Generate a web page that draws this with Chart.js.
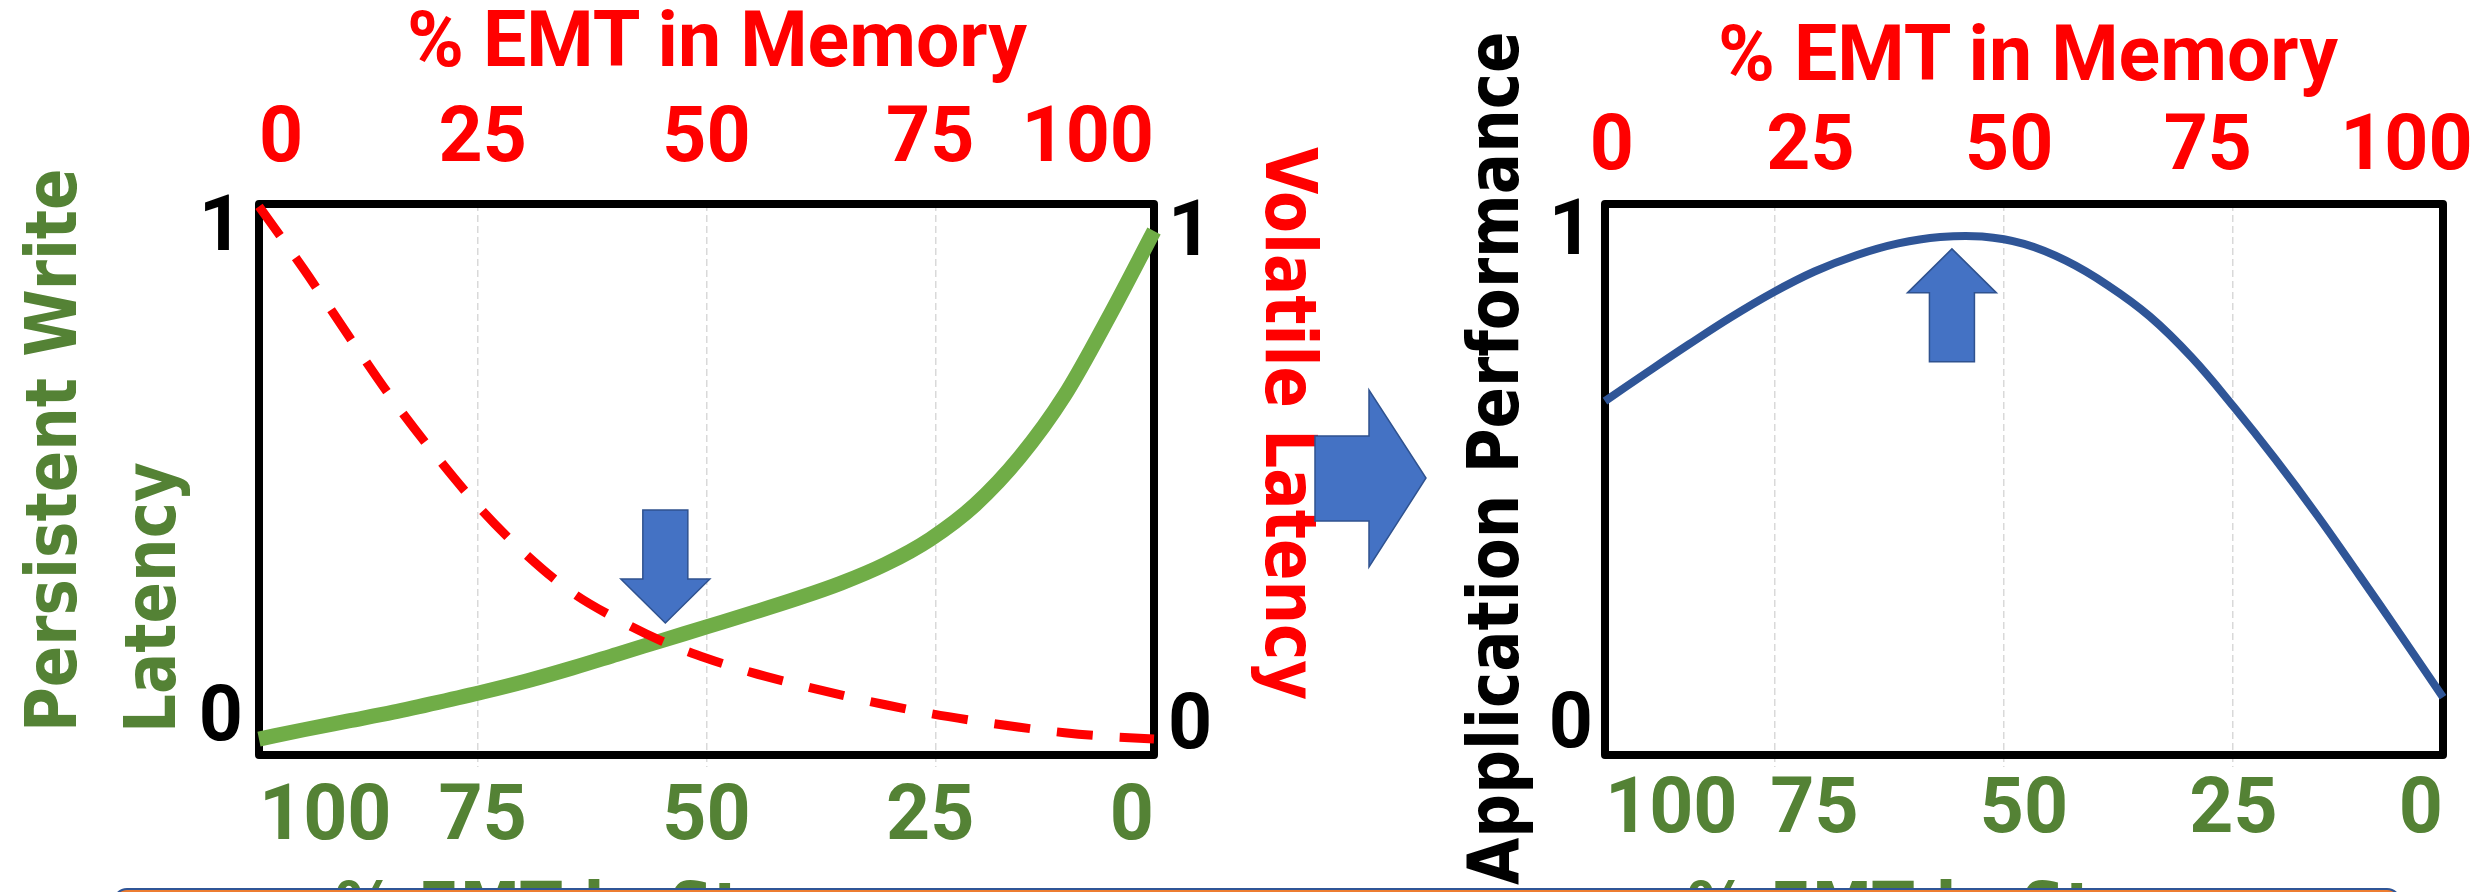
<!DOCTYPE html>
<html>
<head>
<meta charset="utf-8">
<script src="https://cdn.jsdelivr.net/npm/chart.js@4.4.1/dist/chart.umd.min.js"></script>
<style>
  html, body { margin: 0; padding: 0; background: #fff; }
  #stage { position: relative; width: 2486px; height: 892px; overflow: hidden; background: #fff; }
  #stage canvas { position: absolute; top: 0; }
  .t { position: absolute; white-space: nowrap; line-height: 1; }
  .title { font-family: Roboto, 'Liberation Sans', sans-serif; font-weight: bold; font-size: 77px; color: #FF0000; transform: translateX(-50%); }
  .rot { font-family: 'DejaVu Sans', sans-serif; font-weight: bold; font-size: 72px; transform-origin: 0 0; }
  .ccw { transform: rotate(-90deg) scaleX(0.85); }
  .cw { transform: rotate(90deg) scaleX(0.85); }
  .flat { transform: scaleX(0.85); }
</style>
</head>
<body>
<div id="stage">
  <canvas id="leftChart" width="1250" height="892" style="left:0;width:1250px;height:892px"></canvas>
  <canvas id="rightChart" width="1236" height="892" style="left:1250px;width:1236px;height:892px"></canvas>

  <div class="t title" style="left:717px;top:2px">% EMT in Memory</div>
  <div class="t title" style="left:2028px;top:16px">% EMT in Memory</div>

  <div class="t rot ccw" style="left:15px;top:732px;color:#548235">Persistent Write</div>
  <div class="t rot ccw" style="left:114px;top:733px;color:#548235">Latency</div>
  <div class="t rot cw" style="left:1327px;top:147px;color:#FF0000">Volatile Latency</div>
  <div class="t rot ccw" style="left:1457px;top:885px;color:#000">Application Performance</div>

  <div class="t rot flat" style="left:335px;top:872px;color:#548235">% EMT in Storage</div>
  <div class="t rot flat" style="left:1687px;top:872px;color:#548235">% EMT in Storage</div>

  <svg style="position:absolute;left:0;top:0" width="2486" height="892">
    <polygon points="1315,436 1369,436 1369,390 1426,478 1369,567 1369,521 1315,521"
             fill="#4472C4" stroke="#2F528F" stroke-width="1.5"/>
  </svg>

  <div style="position:absolute;left:113px;top:888px;width:2288px;height:40px;box-sizing:border-box;border:2.5px solid #2F5597;border-radius:14px;background:#ED7D31"></div>
</div>

<script>
// ---------------- data ----------------
const EMT_IN_MEMORY = [0, 5, 10, 15, 20, 25, 30, 35, 40, 45, 50, 55, 60, 65, 70, 75, 80, 85, 90, 95, 100];
const PERSISTENT_WRITE_LATENCY = [-0.037, -0.018, 0.000, 0.018, 0.038, 0.059, 0.082, 0.108, 0.136, 0.164, 0.192,
                                  0.220, 0.249, 0.281, 0.320, 0.371, 0.441, 0.538, 0.664, 0.826, 1.000];
const VOLATILE_LATENCY = [1.050, 0.922, 0.786, 0.654, 0.536, 0.428, 0.337, 0.262, 0.208, 0.163, 0.128,
                          0.099, 0.075, 0.053, 0.033, 0.015, 0.000, -0.013, -0.024, -0.032, -0.037];
const APPLICATION_PERFORMANCE = [0.663, 0.721, 0.778, 0.833, 0.883, 0.926, 0.959, 0.983, 0.996, 0.997, 0.982,
                                 0.948, 0.898, 0.835, 0.752, 0.652, 0.545, 0.431, 0.310, 0.187, 0.062];

const MEMORY_TICKS = [0, 25, 50, 75, 100];
const MEMORY_TICK_LABELS = ['0', '25', '50', '75', '100'];
const STORAGE_TICK_LABELS = ['100', '75', '50', '25', '0'];
const GRID_TICKS = [25, 50, 75];
const Y_TICKS = [0, 1];
const Y_TICK_LABELS = ['0', '1'];

// annotation arrows (tip position in data units)
const LEFT_ARROW = { x: 45.4, y: 0.20, dir: 'down' };
const RIGHT_ARROW = { x: 41.4, y: 0.972, dir: 'up' };

// ---------------- styling / layout ----------------
const GREEN_LINE = '#70AD47', GREEN_TEXT = '#548235', RED = '#FF0000', BLUE_LINE = '#2F5597';
const GRID_COLOR = '#D9D9D9';
const TICK_FONT = { family: 'Roboto', size: 77, weight: 'bold', lineHeight: 1.2 };
const ARROW_SHAPE = { headWidth: 89, headLength: 44, shaftWidth: 45, length: 113 };

const setTicks = vals => scale => { scale.ticks = vals.map(v => ({ value: v })); };
const fixW = w => s => { s.width = w; };
const fixH = h => s => { s.height = h; };
const pts = (xs, ys) => xs.map((x, i) => ({ x, y: ys[i] }));

const boxPlugin = {
  id: 'plotBox',
  beforeDatasetsDraw(chart) {
    const { ctx, chartArea: a } = chart;
    ctx.save();
    ctx.lineWidth = 8;
    ctx.lineJoin = 'round';
    ctx.strokeStyle = '#000';
    ctx.strokeRect(a.left, a.top, a.right - a.left, a.bottom - a.top);
    ctx.restore();
  }
};

const arrowPlugin = {
  id: 'blockArrow',
  afterDatasetsDraw(chart, args, opts) {
    const arrow = opts.arrow; if (!arrow) return;
    const { ctx } = chart;
    const tx = chart.scales.x.getPixelForValue(arrow.x);
    const ty = chart.scales.y.getPixelForValue(arrow.y);
    const s = arrow.dir === 'down' ? -1 : 1;
    const hw = ARROW_SHAPE.headWidth / 2, sw = ARROW_SHAPE.shaftWidth / 2;
    const hl = ARROW_SHAPE.headLength, L = ARROW_SHAPE.length;
    ctx.save();
    ctx.beginPath();
    ctx.moveTo(tx, ty);
    ctx.lineTo(tx + hw, ty + s * hl);
    ctx.lineTo(tx + sw, ty + s * hl);
    ctx.lineTo(tx + sw, ty + s * L);
    ctx.lineTo(tx - sw, ty + s * L);
    ctx.lineTo(tx - sw, ty + s * hl);
    ctx.lineTo(tx - hw, ty + s * hl);
    ctx.closePath();
    ctx.fillStyle = '#4472C4';
    ctx.fill();
    ctx.lineWidth = 1.5;
    ctx.strokeStyle = '#2F528F';
    ctx.stroke();
    ctx.restore();
  }
};

function gridAxis(min, max) {
  return {
    type: 'linear', position: 'bottom', min, max, weight: 0,
    afterBuildTicks: setTicks(GRID_TICKS),
    afterFit: fixH(0),
    ticks: { display: false },
    grid: { display: true, color: GRID_COLOR, lineWidth: 1.5, drawTicks: true, tickLength: 12,
            tickColor: GRID_COLOR, tickWidth: 1.5, tickBorderDash: [7, 4] },
    border: { display: false, dash: [7, 4] }
  };
}
function labelAxis(position, min, max, ticksVals, labels, color, padding, align, size, weight) {
  return {
    type: 'linear', position, min, max, weight: weight || 0,
    afterBuildTicks: setTicks(ticksVals),
    afterFit: (position === 'left' || position === 'right') ? fixW(size) : fixH(size),
    grid: { display: false, drawTicks: false },
    border: { display: false },
    ticks: { color, font: TICK_FONT, padding, align: align || 'center', maxRotation: 0, minRotation: 0,
             autoSkip: false, callback: (v, i) => labels[i] }
  };
}

Chart.defaults.devicePixelRatio = 1;

// ---------------- left chart ----------------
new Chart(document.getElementById('leftChart'), {
  type: 'line',
  data: {
    datasets: [
      { label: 'Persistent Write Latency', data: pts(EMT_IN_MEMORY, PERSISTENT_WRITE_LATENCY),
        borderColor: GREEN_LINE, borderWidth: 15, pointRadius: 0, cubicInterpolationMode: 'monotone',
        clip: false, order: 2, xAxisID: 'x', yAxisID: 'y' },
      { label: 'Volatile Latency', data: pts(EMT_IN_MEMORY, VOLATILE_LATENCY),
        borderColor: RED, borderWidth: 9, borderDash: [36, 27], borderCapStyle: 'butt', pointRadius: 0,
        cubicInterpolationMode: 'monotone', clip: false, order: 1, xAxisID: 'x', yAxisID: 'y' }
    ]
  },
  options: {
    responsive: false, animation: false, events: [],
    layout: { padding: 0 },
    plugins: { legend: { display: false }, tooltip: { enabled: false }, blockArrow: { arrow: LEFT_ARROW } },
    scales: {
      x: labelAxis('bottom', 0, 100, MEMORY_TICKS, STORAGE_TICK_LABELS, GREEN_TEXT, 19, 'inner', 137, 1),
      xg: gridAxis(1.09, 98.8),
      xt: labelAxis('top', 0, 100, MEMORY_TICKS, MEMORY_TICK_LABELS, RED, 16, 'inner', 204),
      y: labelAxis('left', -0.0695, 1.055, Y_TICKS, Y_TICK_LABELS, '#000', 16, 'center', 259),
      y2: labelAxis('right', -0.053, 1.065, Y_TICKS, Y_TICK_LABELS, '#000', 14, 'center', 96)
    }
  },
  plugins: [boxPlugin, arrowPlugin]
});

// ---------------- right chart ----------------
new Chart(document.getElementById('rightChart'), {
  type: 'line',
  data: {
    datasets: [
      { label: 'Application Performance', data: pts(EMT_IN_MEMORY, APPLICATION_PERFORMANCE),
        borderColor: BLUE_LINE, borderWidth: 8, pointRadius: 0, tension: 0.4,
        clip: false, xAxisID: 'x', yAxisID: 'y' }
    ]
  },
  options: {
    responsive: false, animation: false, events: [],
    layout: { padding: { right: 43 } },
    plugins: { legend: { display: false }, tooltip: { enabled: false }, blockArrow: { arrow: RIGHT_ARROW } },
    scales: {
      x: labelAxis('bottom', 0, 100, MEMORY_TICKS, STORAGE_TICK_LABELS, GREEN_TEXT, 12, 'inner', 137, 1),
      xg: gridAxis(6.44, 97.9),
      xt: labelAxis('top', -0.87, 104.6, MEMORY_TICKS, MEMORY_TICK_LABELS, RED, 8, 'center', 204),
      y: labelAxis('left', -0.055, 1.063, Y_TICKS, Y_TICK_LABELS, '#000', 12, 'center', 355)
    }
  },
  plugins: [boxPlugin, arrowPlugin]
});
</script>
</body>
</html>
